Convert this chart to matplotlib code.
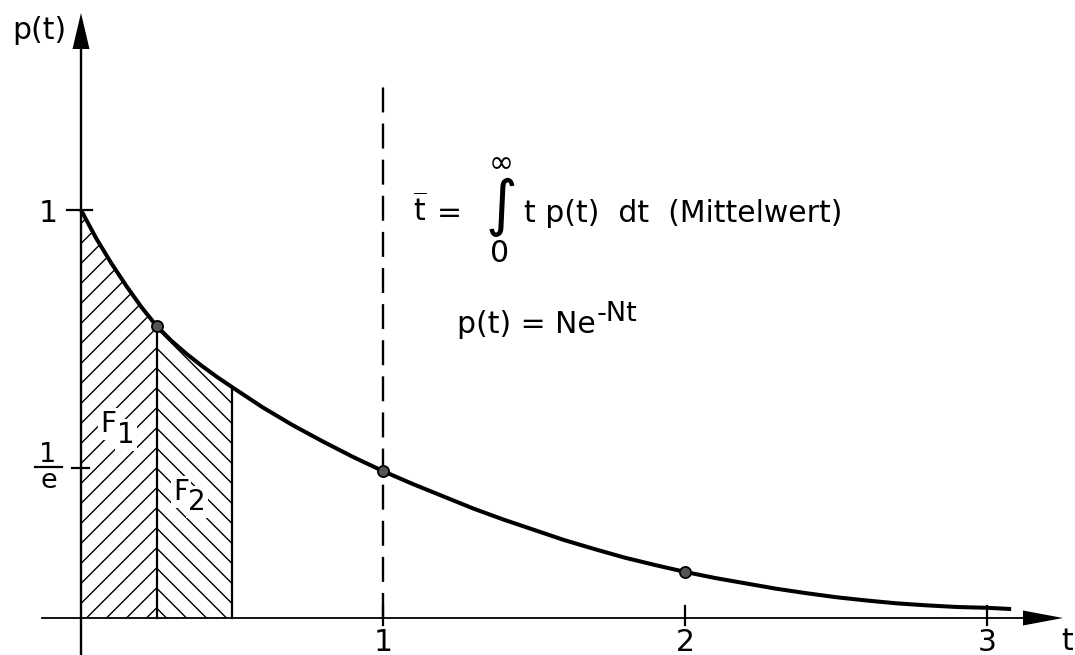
import matplotlib
matplotlib.use('Agg')
import matplotlib.pyplot as plt
import numpy as np
from matplotlib.patches import Polygon

plt.rcParams['font.family'] = ['DejaVu Sans']
plt.rcParams['mathtext.fontset'] = 'dejavusans'
plt.rcParams['lines.scale_dashes'] = False

# ---------------- data ----------------
t_curve = [0.0, 0.05, 0.10, 0.15, 0.20, 0.25, 0.30, 0.35, 0.40, 0.45, 0.50,
           0.60, 0.70, 0.80, 0.90, 1.00, 1.10, 1.20, 1.30, 1.40, 1.50, 1.60,
           1.70, 1.80, 1.90, 2.00, 2.10, 2.20, 2.30, 2.40, 2.50, 2.60, 2.70,
           2.80, 2.90, 3.00, 3.08]
p_curve = [1.000, 0.931, 0.870, 0.814, 0.762, 0.716, 0.679, 0.647, 0.618, 0.591,
           0.566, 0.517, 0.473, 0.433, 0.395, 0.360, 0.328, 0.298, 0.268, 0.241,
           0.216, 0.191, 0.169, 0.148, 0.130, 0.113, 0.098, 0.085, 0.072, 0.061,
           0.051, 0.043, 0.036, 0.031, 0.027, 0.025, 0.022]
t_marks = [0.25, 1.0, 2.0]
p_marks = [0.716, 0.360, 0.113]
x_ticks = [1, 2, 3]
x_tick_labels = ['1', '2', '3']
y_tick_one = 1.0
y_tick_inv_e = 1 / np.e
F1_range = (0.0, 0.25)
F2_range = (0.25, 0.5)
t_mean_line = 1.0

# ---------------- layout ----------------
W, H = 1075, 655
X0, Y0 = 81, 618      # pixel position of the origin
SX, SY = 302, 408     # pixels per unit

fig = plt.figure(figsize=(W / 100, H / 100), dpi=100)
ax = fig.add_axes([0, 0, 1, 1])
ax.set_xlim(-X0 / SX, (W - X0) / SX)
ax.set_ylim(-(H - Y0) / SY, Y0 / SY)
ax.axis('off')


def T(px):
    return (px - X0) / SX


def P(py):
    return (Y0 - py) / SY


FS = 21.5
tc = np.array(t_curve)
pc = np.array(p_curve)

# ---------------- hatched areas ----------------
slope = SX / SY
spacing = 20 / SY
base = P(608)


def region(lo, hi):
    m = (tc >= lo - 1e-9) & (tc <= hi + 1e-9)
    verts = [(lo, 0)] + list(zip(tc[m], pc[m])) + [(hi, 0)]
    poly = Polygon(verts, closed=True, fill=False, lw=0, edgecolor='none')
    ax.add_patch(poly)
    return poly, pc[m][-1]


poly1, p_at_q = region(*F1_range)
poly2, p_at_h = region(*F2_range)
tt = np.array([-0.2, 0.8])
for k in range(-40, 40):
    c = base + k * spacing
    l1, = ax.plot(tt, c + slope * (tt - F1_range[1]), color='black', lw=1.0)
    l1.set_clip_path(poly1)
    l2, = ax.plot(tt, c - slope * (tt - F2_range[0]), color='black', lw=1.0)
    l2.set_clip_path(poly2)

ax.plot([F1_range[1], F1_range[1]], [0, p_at_q], color='black', lw=1.6, zorder=4)
ax.plot([F2_range[1], F2_range[1]], [0, p_at_h], color='black', lw=1.6, zorder=4)

# ---------------- dashed mean line ----------------
ax.plot([t_mean_line, t_mean_line], [0, P(80)], color='black', lw=1.7,
        linestyle=(0, (18, 8)))

# ---------------- axes ----------------
ax.plot([0, 0], [P(655), P(45)], color='black', lw=1.7, zorder=4)
ax.fill([0, T(X0 - 8.5), T(X0 + 8.5)], [P(13), P(49), P(49)], color='black', lw=0)
ax.plot([T(42), T(1025)], [0, 0], color='black', lw=1.3, zorder=4)
ax.fill([T(1063), T(1023), T(1023)], [0, P(610.5), P(625.5)], color='black', lw=0)

# ticks
for xt in x_ticks:
    ax.plot([xt, xt], [P(606), P(625)], color='black', lw=1.6)
ax.plot([T(67), T(92)], [y_tick_one, y_tick_one], color='black', lw=1.6)
ax.plot([T(72), T(89)], [y_tick_inv_e, y_tick_inv_e], color='black', lw=1.6)

# ---------------- curve and points ----------------
ax.plot(tc, pc, color='black', lw=2.9, solid_joinstyle='round', solid_capstyle='butt',
        zorder=4)
ax.plot(t_marks, p_marks, 'o', ms=8, mfc='#555555', mec='black', mew=1.3, zorder=5)

# ---------------- texts ----------------
for xt, lab in zip(x_ticks, x_tick_labels):
    ax.text(xt, P(651), lab, fontsize=FS, ha='center', va='baseline')
ax.text(T(48), P(222), '1', fontsize=FS, ha='center', va='baseline')
ax.text(T(48), P(462), '1', fontsize=19.5, ha='center', va='baseline')
ax.plot([T(35), T(62)], [P(467), P(467)], color='black', lw=1.6)
ax.text(T(48.5), P(488), 'e', fontsize=19.5, ha='center', va='baseline')

ax.text(T(12), P(39), 'p(t)', fontsize=FS, ha='left', va='baseline')
ax.text(T(1061), P(650), 't', fontsize=FS, ha='left', va='baseline')

wb = dict(facecolor='white', edgecolor='none', pad=1.5)
ax.text(T(100), P(432), 'F', fontsize=20, ha='left', va='baseline', bbox=wb, zorder=3)
ax.text(T(117), P(443), '1', fontsize=20, ha='left', va='baseline', bbox=wb, zorder=3)
ax.text(T(173), P(500), 'F', fontsize=20, ha='left', va='baseline', bbox=wb, zorder=3)
ax.text(T(188), P(510), '2', fontsize=20, ha='left', va='baseline', bbox=wb, zorder=3)

# formula 1
ax.text(T(413), P(222), r'$\overline{\mathrm{t}}$', fontsize=FS, ha='left', va='baseline')
ax.text(T(437), P(222), '=', fontsize=FS, ha='left', va='baseline')
ax.text(T(501), P(207), '\u222b', fontsize=44, ha='center', va='center')
ax.text(T(500), P(162), r'$\infty$', fontsize=FS, ha='center', va='center')
ax.text(T(498.5), P(253), r'$\mathregular{0}$', fontsize=FS, ha='center', va='center')
ax.text(T(524), P(222), 't p(t)  dt  (Mittelwert)', fontsize=FS, ha='left', va='baseline')

# formula 2
ax.text(T(457), P(333), 'p(t) = Ne', fontsize=FS, ha='left', va='baseline')
ax.text(T(597), P(321), '-Nt', fontsize=19.5, ha='left', va='baseline')

fig.savefig('out.png', dpi=100, facecolor='white')
